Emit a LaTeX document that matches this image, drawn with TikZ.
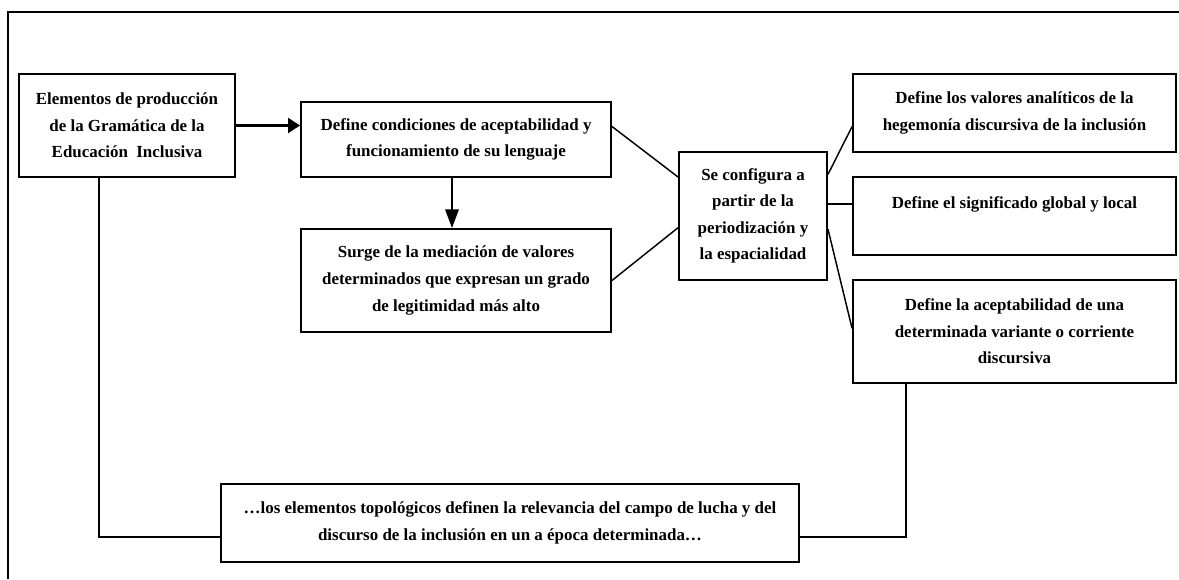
\documentclass[tikz,border=0pt]{standalone}
\usepackage{fontspec}
\setmainfont{Liberation Serif}
\usetikzlibrary{calc,arrows.meta}
\begin{document}
\begin{tikzpicture}[x=0.75pt,y=-0.75pt,
  box/.style={draw, line width=1.4pt, rectangle, inner sep=0pt, align=center,
    font=\bfseries\fontsize{12.7}{19.9}\selectfont},
  conn/.style={line width=1.1pt},
  elbow/.style={line width=1.4pt},
  bigarrow/.style={line width=2.4pt, -{Triangle[length=9pt,width=11pt]}},
  downarrow/.style={line width=1.6pt, -{Triangle[length=14pt,width=10pt]}},
  frameline/.style={line width=1.6pt}]
\useasboundingbox (0,0) rectangle (1179,579);
\coordinate (fl) at (8,579);
\coordinate (tl) at (8,12);
\coordinate (tr) at (1179,12);
\draw[frameline] (fl) -- (tl) -- (tr);

\node[box, minimum width=162pt, minimum height=77.25pt] (A) at (127,125.5)
  {Elementos de producción\\de la Gramática de la\\Educación\ \ Inclusiva};
\node[box, minimum width=232.5pt, minimum height=56.25pt] (B) at (456,139.5)
  {Define condiciones de aceptabilidad y\\funcionamiento de su lenguaje};
\node[box, minimum width=232.5pt, minimum height=77.25pt] (C) at (456,280.5)
  {Surge de la mediación de valores\\determinados que expresan un grado\\de legitimidad más alto};
\node[box, minimum width=111pt, minimum height=96pt] (D) at (753,216)
  {Se configura a\\partir de la\\periodización y\\la espacialidad};
\node[box, minimum width=242.25pt, minimum height=58.5pt] (E) at (1014.5,113)
  {Define los valores analíticos de la\\hegemonía discursiva de la inclusión};
\node[box, minimum width=242.25pt, minimum height=58.5pt] (F) at (1014.5,216)
  {Define el significado global y local\\\phantom{D}};
\node[box, minimum width=242.25pt, minimum height=77.25pt] (G) at (1014.5,331.5)
  {Define la aceptabilidad de una\\determinada variante o corriente\\discursiva};
\node[box, minimum width=433.5pt, minimum height=58.5pt] (H) at (510,523)
  {…los elementos topológicos definen la relevancia del campo de lucha y del\\discurso de la inclusión en un a época determinada…};

\draw[bigarrow] (A.east) -- (A.east -| B.west);
\draw[downarrow] ([xshift=-3pt]B.south) -- ([xshift=-3pt]C.north);

\draw[conn] ($(B.north east)!0.33!(B.south east)$) -- ($(D.north west)!0.2!(D.south west)$);
\draw[conn] (C.east) -- ($(D.north west)!0.59!(D.south west)$);
\draw[conn] ($(D.north east)!0.18!(D.south east)$) -- ($(E.north west)!0.67!(E.south west)$);
\draw[elbow] ($(D.north east)!0.41!(D.south east)$) coordinate (dF) -- (dF -| F.west);
\draw[conn] ($(D.north east)!0.6!(D.south east)$) -- ($(G.north west)!0.47!(G.south west)$);

\draw[elbow] ($(A.south west)!0.37!(A.south east)$) |- ($(H.north west)!0.67!(H.south west)$);
\draw[elbow] ($(G.south west)!0.167!(G.south east)$) |- ($(H.north east)!0.67!(H.south east)$);
\end{tikzpicture}
\end{document}
